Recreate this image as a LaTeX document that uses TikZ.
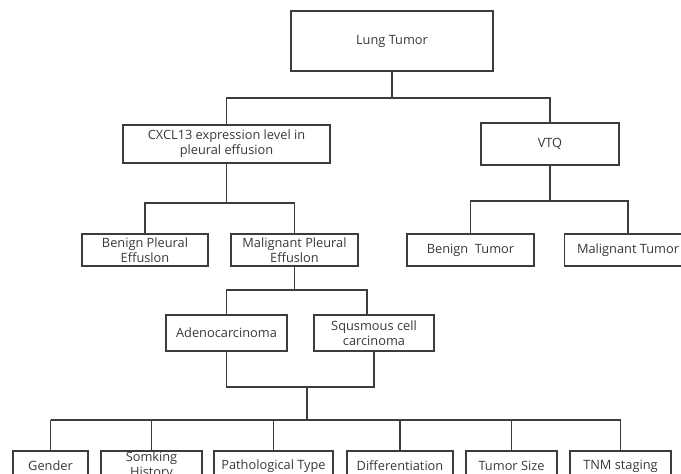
\documentclass[tikz,border=0pt]{standalone}
\usepackage{fontspec}
\setmainfont{Open Sans}
\usetikzlibrary{calc}
\definecolor{ink}{HTML}{3C3C3C}
\definecolor{txt}{HTML}{383838}
\begin{document}
\begin{tikzpicture}[x=1pt,y=-1pt,
  box/.style={draw=ink,line width=1.8pt,rectangle,inner sep=0pt,align=center,
    text=txt,font=\fontsize{12.8}{15}\selectfont},
  link/.style={draw=ink,line width=1.8pt}]
\useasboundingbox (0,0) rectangle (681,474);
% nodes
\node[box,minimum width=202pt,minimum height=60pt] (lung) at (392,41) {Lung Tumor};
\node[box,minimum width=207pt,minimum height=38pt] (cxcl) at (226.5,144) {CXCL13 expression level in\\pleural effusion};
\node[box,minimum width=138pt,minimum height=42pt] (vtq) at (550,144) {VTQ};
\node[box,minimum width=126pt,minimum height=32pt] (bpe) at (145,250) {Benign Pleural\\Effuslon};
\node[box,minimum width=127pt,minimum height=32pt] (mpe) at (294.5,250) {Malignant Pleural\\Effuslon};
\node[box,minimum width=127pt,minimum height=32pt] (bt) at (470.5,250) {Benign\ \ Tumor};
\node[box,minimum width=127pt,minimum height=32pt] (mt) at (628,250) {Malignant Tumor};
\node[box,minimum width=121pt,minimum height=36pt] (adeno) at (226.5,333) {Adenocarcinoma};
\node[box,minimum width=120pt,minimum height=36pt] (squ) at (374,333) {Squsmous cell\\carcinoma};
\node[box,minimum width=75pt,minimum height=30pt] (gender) at (50.5,466) {Gender};
\node[box,minimum width=101pt,minimum height=30pt] (smoke) at (151.5,466) {Somking\\History};
\node[box,minimum width=119pt,minimum height=30pt] (path) at (273.5,466) {Pathological Type};
\node[box,minimum width=106pt,minimum height=30pt] (diff) at (400,466) {Differentiation};
\node[box,minimum width=91pt,minimum height=30pt] (tsize) at (511.5,466) {Tumor Size};
\node[box,minimum width=101pt,minimum height=30pt] (tnm) at (620.5,466) {TNM staging};
% junctions
\coordinate (j1) at (392,98);
\coordinate (j2) at (226.5,203);
\coordinate (j3) at (550,201);
\coordinate (j4) at (294.5,290);
\coordinate (j5) at (307,387);
\coordinate (j6) at (307,420);
% connectors
\draw[link] (lung.south) -- (j1);
\draw[link] (j1) -| (cxcl.north);
\draw[link] (j1) -| (vtq.north);
\draw[link] (cxcl.south) -- (j2);
\draw[link] (j2) -| (bpe.north);
\draw[link] (j2) -| (mpe.north);
\draw[link] (vtq.south) -- (j3);
\draw[link] (j3) -| (bt.north);
\draw[link] (j3) -| (mt.north);
\draw[link] (mpe.south) -- (j4);
\draw[link] (j4) -| (adeno.north);
\draw[link] (j4) -| ([xshift=-7pt]squ.north);
\draw[link] (adeno.south) -- (adeno.south |- j5) -- (squ.south |- j5) -- (squ.south);
\draw[link] (j5) -- (j6);
\draw[link] (gender.north |- j6) -- (tnm.north |- j6);
\foreach \n in {gender,smoke,path,diff,tsize,tnm}
  \draw[link] (\n.north |- j6) -- (\n.north);
\end{tikzpicture}
\end{document}
